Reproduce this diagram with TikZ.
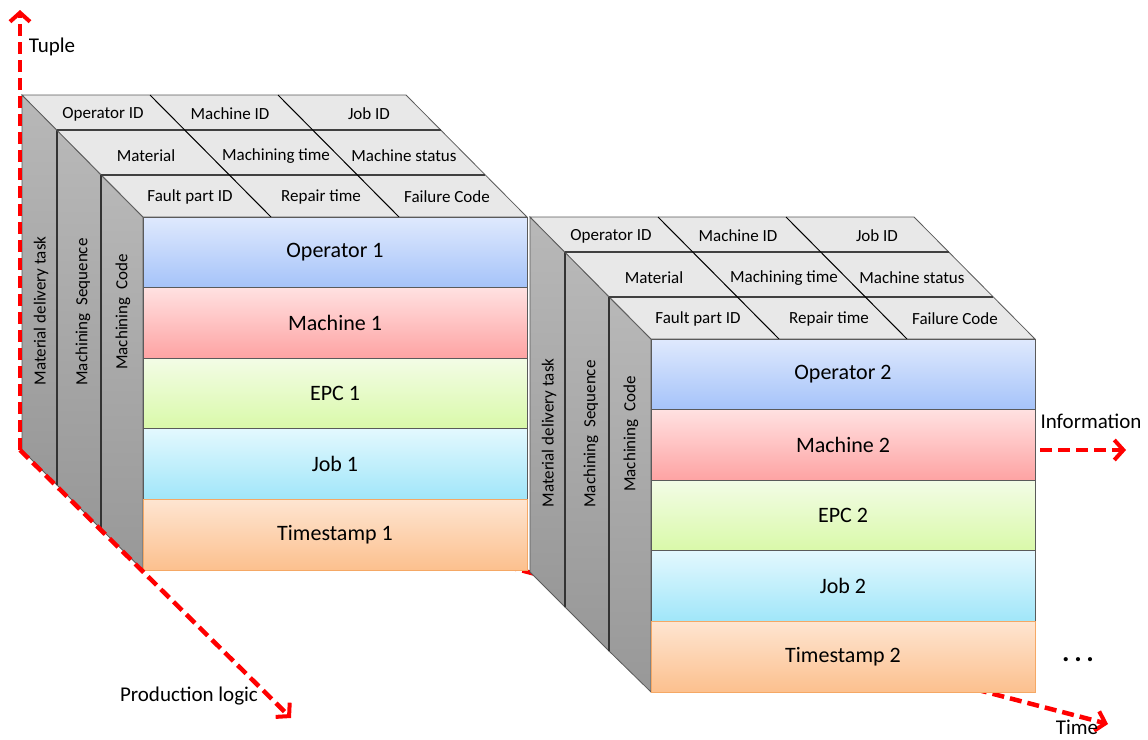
\documentclass[tikz,border=0pt]{standalone}
\usepackage{fontspec}
\setmainfont{Carlito}
\usetikzlibrary{arrows.meta}
\definecolor{opT}{HTML}{DFE9FD}\definecolor{opB}{HTML}{A5C3F9}
\definecolor{maT}{HTML}{FFE1E1}\definecolor{maB}{HTML}{FEA3A3}
\definecolor{epT}{HTML}{F3FCE6}\definecolor{epB}{HTML}{D9F9A9}
\definecolor{jbT}{HTML}{E3F8FE}\definecolor{jbB}{HTML}{A0E6F9}
\definecolor{tsT}{HTML}{FEE5D1}\definecolor{tsB}{HTML}{FCC08E}
\definecolor{tsD}{HTML}{F5A865}
\definecolor{slT}{HTML}{B8B8B8}\definecolor{slB}{HTML}{989898}
\definecolor{topF}{HTML}{E8E8E8}
\definecolor{edge}{HTML}{5A5A5A}
\tikzset{
  axisline/.style={draw=red, line width=4.5pt, dash pattern=on 12pt off 6pt,
    -{Straight Barb[length=9pt,width=20pt,line width=4pt]}},
  slab/.style={top color=slT, bottom color=slB, draw=edge, line width=0.8pt},
  slabdiv/.style={draw=black!80, line width=1.6pt},
  topface/.style={fill=topF, draw=edge, line width=0.8pt},
  topline/.style={draw=black!75, line width=1.2pt},
  divline/.style={draw=black, line width=1pt},
  cell/.style={minimum width=384pt, minimum height=70.6pt, inner sep=0pt,
    draw=edge, line width=0.8pt, font=\fontsize{22}{26}\selectfont},
  small/.style={font=\fontsize{17}{20}\selectfont, inner sep=0pt},
  sidelab/.style={font=\fontsize{17}{20}\selectfont, inner sep=0pt, rotate=90},
  axlab/.style={font=\fontsize{21}{25}\selectfont, inner sep=0pt},
}
\newcommand\mycube[3]{%
\begin{scope}[shift={(#1,#2)}]
  % side slabs
  \path[slab] (22,95) -- (57,130) -- (57,485) -- (22,450) -- cycle;
  \path[slab] (57,130) -- (101,175) -- (101,529) -- (57,485) -- cycle;
  \path[slab] (101,175) -- (143,217) -- (143,570) -- (101,529) -- cycle;
  \draw[slabdiv] (57,130) -- (57,485);
  \draw[slabdiv] (101,175) -- (101,529);
  % top face
  \path[topface] (22,95) -- (406,95) -- (527,217) -- (143,217) -- cycle;
  \draw[topline] (57,130) -- (441,130);
  \draw[topline] (101,175) -- (485,175);
  \draw[divline] (150,95) -- (271,217);
  \draw[divline] (278,95) -- (399,217);
  % top labels
  \node[small] (opid#3) at (103,114) {Operator ID};
  \node[small] (maid#3) at (230,114) {Machine ID};
  \node[small] (jbid#3) at (369,114) {Job ID};
  \node[small] (mat#3)  at (146,156) {Material};
  \node[small] (mtime#3) at (276,156) {Machining time};
  \node[small] (mstat#3) at (404,156) {Machine status};
  \node[small] (fpid#3) at (190,197) {Fault part ID};
  \node[small] (rtime#3) at (321,197) {Repair time};
  \node[small] (fcode#3) at (447,197) {Failure Code};
  % side labels
  \node[sidelab] (mdt#3) at (41,311) {Material delivery task};
  \node[sidelab] (mseq#3) at (83,312) {Machining~~Sequence};
  \node[sidelab] (mcode#3) at (123,312) {Machining~~Code};
  % front face
  \node[cell, top color=opT, bottom color=opB] (op#3) at (335,252.3) {Operator #3};
  \node[cell, top color=maT, bottom color=maB] (ma#3) at (335,322.9) {Machine #3};
  \node[cell, top color=epT, bottom color=epB] (ep#3) at (335,393.5) {EPC #3};
  \node[cell, top color=jbT, bottom color=jbB] (jb#3) at (335,464.1) {Job #3};
  \node[cell, top color=tsT, bottom color=tsB, draw=tsD] (ts#3) at (335,534.7) {Timestamp #3};
\end{scope}}
\begin{document}
\begin{tikzpicture}[x=1pt,y=-1pt]
\useasboundingbox (0,0) rectangle (1148,739);
% time axis (under the cubes)
\coordinate (t0) at (505,566);
\coordinate (t1) at (1108,724);
\draw[axisline] (t0) -- (t1);
\mycube{0}{0}{1}
\mycube{508}{122}{2}
% axes
\coordinate (o) at (20,450);
\coordinate (tup) at (20,10);
\coordinate (pl) at (291,718);
\draw[axisline] (o) -- (tup);
\draw[axisline] (o) -- (pl);
\coordinate (i0) at (1040,450);
\coordinate (i1) at (1126,450);
\draw[axisline] (i0) -- (i1);
\node[axlab] (tuple) at (52,47) {Tuple};
\node[axlab] (plog) at (189,696) {Production logic};
\node[axlab] (info) at (1091,421) {Information};
\node[axlab] (time) at (1077,727) {Time};
\node[font=\bfseries\fontsize{28}{30}\selectfont, inner sep=0pt] (dots) at (1078,660) {.\,.\,.};
\end{tikzpicture}
\end{document}
